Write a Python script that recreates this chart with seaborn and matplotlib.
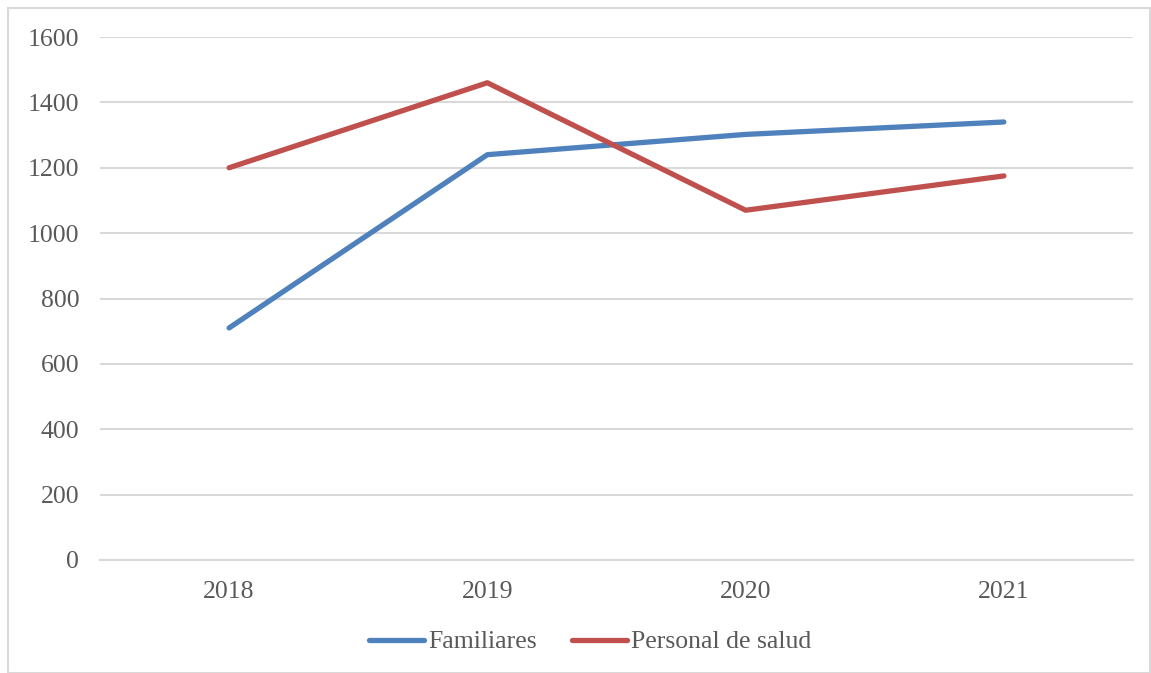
import pandas as pd
import matplotlib.pyplot as plt
import seaborn as sns
from matplotlib.patches import Rectangle

# data
years = ['2018', '2019', '2020', '2021']
familiares = [710, 1240, 1302, 1340]
personal_salud = [1200, 1460, 1070, 1175]
series_names = ['Familiares', 'Personal de salud']

df = pd.DataFrame({
    'Año': years * 2,
    'Valor': familiares + personal_salud,
    'Serie': [series_names[0]] * 4 + [series_names[1]] * 4,
})

sns.set_theme(style='white')
plt.rcParams['font.family'] = ['Liberation Serif', 'DejaVu Serif']

text_color = '#595959'
grid_color = '#D9D9D9'
palette = {'Familiares': '#4F81BD', 'Personal de salud': '#C0504D'}

fig = plt.figure(figsize=(11.51, 6.73), dpi=100)
ax = fig.add_axes([100 / 1151, 1 - 560 / 673, 1033 / 1151, 523 / 673])

sns.lineplot(data=df, x='Año', y='Valor', hue='Serie', palette=palette,
             linewidth=3.8, solid_capstyle='round', ax=ax, sort=False)

ax.set_xlim(-0.5, 3.5)
ax.set_ylim(0, 1600)
ax.set_yticks(range(0, 1601, 200))
ax.yaxis.grid(True, color=grid_color, linewidth=1.5)
ax.set_axisbelow(True)
for side in ['top', 'right', 'left']:
    ax.spines[side].set_visible(False)
ax.spines['bottom'].set_color(grid_color)
ax.spines['bottom'].set_linewidth(1.5)
ax.tick_params(axis='both', length=0, labelsize=18.5, labelcolor=text_color)
ax.tick_params(axis='y', pad=15)
ax.tick_params(axis='x', pad=15)
ax.set_xlabel('')
ax.set_ylabel('')

handles, labels = ax.get_legend_handles_labels()
ax.legend(handles, labels, loc='center', bbox_to_anchor=(590 / 1151, 1 - 642 / 673),
          bbox_transform=fig.transFigure, ncol=2, frameon=False, fontsize=18.5,
          labelcolor=text_color, handlelength=2.15, handletextpad=0.15,
          columnspacing=1.35)

# outer chart border
fig.patches.append(Rectangle((8 / 1151, 0), 1 - 8 / 1151 - 0.0005, 1 - 8 / 673,
                             transform=fig.transFigure, fill=False,
                             edgecolor='#D9D9D9', linewidth=1.5))

plt.savefig('out.png', dpi=100)
plt.close()
